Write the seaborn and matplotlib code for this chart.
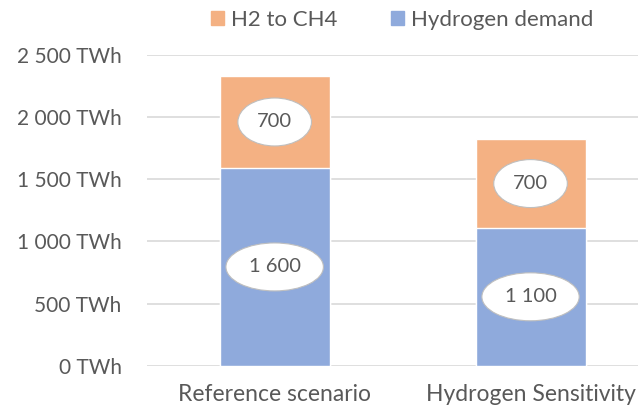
import numpy as np
import pandas as pd
import matplotlib
matplotlib.use("Agg")
import matplotlib.pyplot as plt
import seaborn as sns
from matplotlib.patches import Patch

# data (labels are rounded to hundreds)
scenarios = ["Reference scenario", "Hydrogen Sensitivity"]
hydrogen_demand = [1590, 1110]
h2_to_ch4 = [740, 710]
y_ticks = [0, 500, 1000, 1500, 2000, 2500]

orange = "#F4B183"
blue = "#8FAADC"
text_col = "#595959"

sns.set_style("white")
plt.rcParams["font.family"] = ["Lato", "DejaVu Sans"]

df = pd.DataFrame({"scenario": scenarios,
                   "demand": hydrogen_demand,
                   "ch4": h2_to_ch4})
df["total"] = df["demand"] + df["ch4"]

fig = plt.figure(figsize=(6.38, 4.12), dpi=100)
ax = fig.add_axes([0.230, 0.112, 0.770, 0.755])

# stacked: draw total first, then demand on top of it
sns.barplot(data=df, x="scenario", y="total", color=orange, saturation=1,
            width=0.43, ax=ax, zorder=2)
sns.barplot(data=df, x="scenario", y="demand", color=blue, saturation=1,
            width=0.43, ax=ax, zorder=3)

# value labels in white ellipses
bbox = dict(boxstyle="ellipse,pad=0.42", fc="white", ec="#BFBFBF", lw=0.8)
for i, row in df.iterrows():
    for val, mid in [(row["demand"], row["demand"] / 2),
                     (row["ch4"], row["demand"] + row["ch4"] / 2)]:
        lab = f"{int(round(val, -2)):,}".replace(",", " ")
        ax.text(i, mid, lab, ha="center", va="center", fontsize=14.5,
                color=text_col, bbox=bbox, zorder=5)

ax.set_ylim(0, 2500)
ax.set_xlim(-0.5, 1.42)
ax.set_yticks(y_ticks)
ax.set_yticklabels([f"{v:,} TWh".replace(",", " ") for v in y_ticks])
ax.yaxis.grid(True, color="#D9D9D9", lw=1.2)
ax.set_axisbelow(True)
ax.set_xlabel("")
ax.set_ylabel("")
ax.tick_params(axis="both", length=0, labelcolor=text_col)
ax.tick_params(axis="y", pad=18, labelsize=15)
ax.tick_params(axis="x", pad=13, labelsize=16.5)
for s in ax.spines.values():
    s.set_visible(False)

handles = [Patch(color=orange, label="H2 to CH4"),
           Patch(color=blue, label="Hydrogen demand")]
leg = fig.legend(handles=handles, loc="center", bbox_to_anchor=(0.63, 0.951),
                 ncol=2, frameon=False, fontsize=16, handlelength=0.6,
                 handleheight=0.6, handletextpad=0.3, columnspacing=2.4)
for t in leg.get_texts():
    t.set_color(text_col)

fig.savefig("out.png", dpi=100)
